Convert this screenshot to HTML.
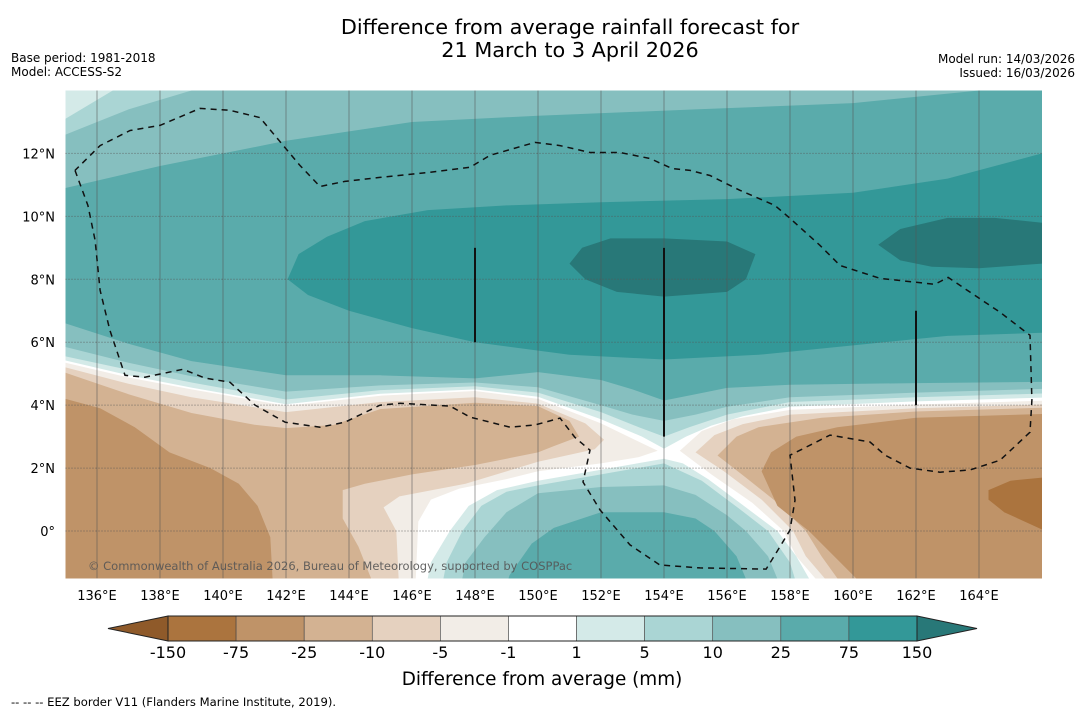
<!DOCTYPE html>
<html><head><meta charset="utf-8"><style>
html,body{margin:0;padding:0;background:#fff;width:1085px;height:713px;overflow:hidden}
svg{display:block;font-family:"DejaVu Sans","Liberation Sans",sans-serif}
</style></head><body>
<svg id="chart" width="1085" height="713" viewBox="0 0 1085 713" xmlns="http://www.w3.org/2000/svg">
<text x="570" y="34" font-size="20.8" text-anchor="middle">Difference from average rainfall forecast for</text>
<text x="570" y="57" font-size="20.8" text-anchor="middle">21 March to 3 April 2026</text>
<text x="11" y="62" font-size="12">Base period: 1981-2018</text>
<text x="11" y="76" font-size="12">Model: ACCESS-S2</text>
<text x="1075" y="63" font-size="12" text-anchor="end">Model run: 14/03/2026</text>
<text x="1075" y="77" font-size="12" text-anchor="end">Issued: 16/03/2026</text>
<defs><clipPath id="mapclip"><rect x="65.5" y="90.5" width="976.5" height="488"/></clipPath></defs>
<g id="map" clip-path="url(#mapclip)"></g>
<g id="overlay"></g>
<g id="cbar"></g>
<text x="542" y="685" font-size="18.4" text-anchor="middle">Difference from average (mm)</text>
<text x="11" y="706" font-size="11.6">--  --  -- EEZ border V11 (Flanders Marine Institute, 2019).</text>
</svg>
<script>
// axis domain
const lonTicks = [136,138,140,142,144,146,148,150,152,154,156,158,160,162,164];
const latTicks = [0,2,4,6,8,10,12];
const latTickLabels = ['0°','2°N','4°N','6°N','8°N','10°N','12°N'];
const cbarLabels = ['-150','-75','-25','-10','-5','-1','1','5','10','25','75','150'];
const cbarColors = ['#ab743e','#bf9368','#d3b292','#e5d1bf','#f2ede7','#ffffff','#d4eae8','#aad5d4','#86bfbf','#5aabab','#339898'];
const cbarUnder = '#8f5a2a';
const cbarOver = '#287878';

// contour regions (lon, lat)
const swMinus1 = [[134,5.4],[135,5.35],[137,4.88],[139,4.5],[142,3.98],[145,4.3],[148,4.45],[150,4.2],[152,3.42],[153.8,2.55],[153.2,2.35],[152,2.15],[150,1.9],[149,1.65],[147.5,1.35],[146.6,1.0],[146.2,0.3],[146.1,-2],[134,-2]];
const swMinus5 = [[134,-2],[134,5.25],[135,5.2],[137,4.68],[139,4.25],[142,3.78],[145,4.1],[148,4.25],[150,4.05],[151.5,3.42],[152.1,2.9],[151.8,2.6],[150,2.2],[147.7,1.5],[145.6,1.1],[145.1,0.75],[145.5,0],[145.6,-2]];
const swMinus10 = [[134,-2],[134,5.08],[135,5.03],[137,4.35],[139,3.75],[141,3.38],[142,3.27],[143.5,3.37],[145,3.88],[148,4.08],[150,3.97],[151,3.5],[151.3,3.0],[150.5,2.7],[150,2.5],[148,2.1],[146,1.8],[144.5,1.5],[143.8,1.3],[143.8,0.4],[144.3,-0.5],[144.7,-1.5],[144.8,-2]];
const swMinus25 = [[134,-2],[134,4.3],[135,4.2],[136.1,3.9],[137.2,3.3],[138.3,2.5],[139.6,2.0],[140.5,1.5],[141.1,0.8],[141.5,-0.2],[141.6,-2]];
const seMinus1 = [[154.5,2.55],[155.2,3.18],[156.2,3.55],[158,3.85],[162,4.02],[167,4.17],[167,-2],[159.1,-2],[158.8,-1.5],[158.2,-0.8],[157.8,0],[156.8,0.9],[155.5,1.8]];
const seMinus5 = [[155.0,2.5],[155.6,3.05],[156.5,3.4],[158,3.7],[162,3.9],[167,4.05],[167,-2],[159.4,-2],[159.1,-1.5],[158.5,-0.8],[158.1,0],[157.1,1.0],[155.9,1.9]];
const seMinus10 = [[155.7,2.4],[156.3,3.0],[157,3.3],[159,3.6],[162,3.8],[167,3.95],[167,-2],[159.8,-2],[159.5,-1.5],[159.0,-0.8],[158.5,0],[157.6,0.9],[156.6,1.7]];
const seMinus25 = [[157.1,1.9],[157.4,2.5],[158.2,3.0],[159.5,3.3],[162,3.6],[167,3.75],[167,-2],[160.3,-2],[160.1,-1.5],[159.6,-1.0],[158.6,0],[157.6,0.8]];
const seMinus75 = [[167,1.75],[166,1.7],[165,1.6],[164.3,1.3],[164.3,1.0],[164.8,0.6],[166,0.05],[167,-0.2]];
const sPlus1 = [[146.4,-2],[146.6,-1],[147.2,0],[147.8,0.8],[148.7,1.3],[150,1.6],[152,1.95],[154,2.3],[154.6,2.15],[155.4,1.65],[156.6,0.75],[157.6,0],[158.2,-0.8],[158.6,-1.5],[158.8,-2]];
const sPlus5 = [[146.9,-2],[147.1,-1],[147.6,0],[148.2,0.8],[149,1.25],[150,1.45],[152,1.8],[154,2.15],[155.2,1.6],[156.4,0.7],[157.3,0],[158.0,-1],[158.3,-2]];
const sPlus10 = [[147.5,-2],[147.7,-1],[148.3,-0.2],[149,0.6],[150,1.2],[152,1.4],[154,1.45],[155,1.15],[156,0.5],[156.6,0],[157.3,-0.8],[157.8,-2]];
const sPlus25 = [[148.9,-2],[149.1,-1.4],[149.8,-0.4],[150.5,0.1],[152,0.6],[154,0.6],[155,0.4],[155.6,0],[156.3,-0.8],[156.8,-2]];
const nPlus1 = [[134,5.45],[135,5.42],[137,4.95],[139,4.56],[142,4.03],[145,4.36],[148,4.5],[150,4.27],[152,3.55],[153.3,3.0],[154,2.62],[154.7,3.0],[155.5,3.35],[156.5,3.65],[158,3.95],[162,4.12],[167,4.27],[167,15],[134,15]];
const nPlus5 = [[134,5.6],[135,5.55],[137,5.12],[139,4.72],[142,4.18],[145,4.48],[148,4.6],[150,4.4],[152,3.78],[153.2,3.3],[154,3.0],[154.8,3.3],[156,3.7],[158,4.1],[162,4.25],[167,4.4],[167,15],[137,15],[136.5,14],[135,13.1],[134,13.0]];
const nPlus10 = [[134,5.9],[135,5.85],[137,5.35],[139,4.92],[142,4.43],[145,4.63],[148,4.72],[150,4.57],[152,4.0],[153,3.7],[154,3.5],[155,3.7],[156,3.95],[158,4.25],[162,4.4],[167,4.55],[167,15],[140,15],[139,14],[137,13.4],[135,12.6],[134,12.5]];
const nPlus25 = [[134,6.7],[135,6.6],[137,5.95],[139,5.4],[142,4.95],[145,4.95],[148,4.85],[150,5.05],[152,4.8],[153,4.5],[154,4.15],[155,4.35],[156,4.55],[158,4.65],[162,4.7],[167,4.75],[167,14.3],[160,13.6],[155,13.4],[150,13.2],[146,13.0],[142,12.4],[138,11.6],[135,10.9],[134,10.8]];
const nPlus75 = [[142.05,8.0],[142.4,8.8],[143.3,9.35],[144.5,9.85],[146.5,10.2],[149,10.35],[152,10.45],[156,10.55],[160,10.75],[163,11.2],[166,12.0],[167,12.3],[167,6.3],[166,6.3],[163,6.2],[160,5.9],[157,5.6],[154,5.45],[151,5.6],[148,6.0],[146,6.45],[144,7.0],[142.7,7.5]];
const nPlus150a = [[151,8.5],[151.4,9.0],[152.3,9.3],[154,9.3],[156,9.2],[156.9,8.8],[156.6,8.0],[156,7.6],[154,7.45],[152.5,7.6],[151.5,8.0]];
const nPlus150b = [[160.8,9.1],[161.5,9.6],[163,9.95],[164.5,9.95],[166,9.8],[167,9.7],[167,8.4],[166,8.5],[164,8.35],[162.5,8.4],[161.5,8.6]];

const eezBorder = [[135.3,11.46],[135.71,10.35],[135.94,9.24],[136.1,7.65],[136.41,6.38],[136.89,4.95],[137.52,4.89],[138.73,5.14],[139.43,4.86],[140.22,4.73],[141.02,4.0],[141.97,3.46],[143.08,3.3],[143.87,3.46],[144.98,4.0],[145.62,4.06],[147.21,3.97],[147.84,3.62],[149.11,3.3],[149.9,3.37],[150.7,3.59],[151.17,2.98],[151.65,2.57],[151.43,1.56],[151.97,0.67],[152.92,-0.44],[153.87,-1.08],[155.14,-1.17],[157.24,-1.21],[157.52,-0.76],[158.0,0.03],[158.16,0.98],[158.0,2.41],[158.32,2.57],[159.27,3.05],[160.54,2.83],[161.02,2.41],[161.81,2.0],[162.76,1.87],[163.71,1.94],[164.67,2.25],[165.62,3.14],[165.68,4.16],[165.62,6.22],[164.67,6.95],[163.87,7.49],[163.02,8.06],[162.6,7.84],[160.86,8.03],[159.59,8.44],[158.95,9.08],[158.0,9.94],[157.52,10.35],[156.41,10.83],[155.46,11.3],[154.83,11.46],[154.25,11.52],[153.56,11.84],[152.6,12.03],[151.65,12.03],[150.7,12.25],[149.9,12.35],[148.48,11.94],[147.84,11.56],[146.57,11.4],[144.98,11.24],[143.87,11.11],[143.08,10.95],[142.44,11.62],[141.17,13.14],[140.22,13.37],[139.27,13.43],[138.0,12.89],[137.05,12.73],[136.1,12.25],[135.3,11.46]];
const meridianSegLon = [148,154,162];
const meridianSegLat0 = [6,3,4];
const meridianSegLat1 = [9,9,7];

// axis functions
const LON0=135, LON1=166, LAT0=-1.5, LAT1=14;
const X0=65.5, X1=1042, Y0=578.25, Y1=90.5;
function xOf(lon){return X0+(lon-LON0)*(X1-X0)/(LON1-LON0);}
function yOf(lat){return Y0-(lat-LAT0)*(Y0-Y1)/(LAT1-LAT0);}
const NS='http://www.w3.org/2000/svg';
const mapG=document.getElementById('map');
const ov=document.getElementById('overlay');
const cb=document.getElementById('cbar');
function mk(tag,attrs,parent){const e=document.createElementNS(NS,tag);for(const k in attrs)e.setAttribute(k,attrs[k]);parent.appendChild(e);return e;}
function pts(arr){return arr.map(p=>xOf(p[0]).toFixed(1)+','+yOf(p[1]).toFixed(1)).join(' ');}

let bg=mk('rect',{x:X0,y:Y1,width:X1-X0,height:Y0-Y1,fill:'#ffffff'},mapG);



const regions=[
 ['sw-minus1',swMinus1,cbarColors[4]],['sw-minus5',swMinus5,cbarColors[3]],['sw-minus10',swMinus10,cbarColors[2]],['sw-minus25',swMinus25,cbarColors[1]],
 ['se-minus1',seMinus1,cbarColors[4]],['se-minus5',seMinus5,cbarColors[3]],['se-minus10',seMinus10,cbarColors[2]],['se-minus25',seMinus25,cbarColors[1]],['se-minus75',seMinus75,cbarColors[0]],
 ['south-plus1',sPlus1,cbarColors[6]],['south-plus5',sPlus5,cbarColors[7]],['south-plus10',sPlus10,cbarColors[8]],['south-plus25',sPlus25,cbarColors[9]],
 ['north-plus1',nPlus1,cbarColors[6]],['north-plus5',nPlus5,cbarColors[7]],['north-plus10',nPlus10,cbarColors[8]],['north-plus25',nPlus25,cbarColors[9]],['north-plus75',nPlus75,cbarColors[10]],
 ['north-plus150-west',nPlus150a,cbarOver],['north-plus150-east',nPlus150b,cbarOver]
];
regions.forEach(r=>{
  const p=mk('polygon',{points:pts(r[1]),fill:r[2]},mapG);
  
  
});

// gridlines
lonTicks.forEach(l=>{
  const g=mk('line',{x1:xOf(l),x2:xOf(l),y1:Y1,y2:Y0,stroke:'#555',"stroke-width":0.8,"stroke-opacity":0.7},mapG);
  
  
  const t=mk('text',{x:xOf(l),y:600,"font-size":13,"text-anchor":"middle"},ov);
  t.textContent=l+'°E';
  
  
});
latTicks.forEach((l,i)=>{
  const g=mk('line',{x1:X0,x2:X1,y1:yOf(l),y2:yOf(l),stroke:'#555',"stroke-width":1,"stroke-dasharray":"1,2","stroke-opacity":0.8},mapG);
  
  
  const t=mk('text',{x:55,y:yOf(l)+5,"font-size":13,"text-anchor":"end"},ov);
  t.textContent=latTickLabels[i];
  
  
});
// meridian segments
meridianSegLon.forEach((l,i)=>{
  const s=mk('line',{x1:xOf(l),x2:xOf(l),y1:yOf(meridianSegLat1[i]),y2:yOf(meridianSegLat0[i]),stroke:'#111',"stroke-width":2},mapG);
  
  
});
// EEZ border
const eez=mk('polyline',{points:pts(eezBorder),fill:'none',stroke:'#111',"stroke-width":1.5,"stroke-dasharray":"6,5"},mapG);


// copyright
const cp=mk('text',{x:88,y:570,"font-size":11.5,fill:'#555',"fill-opacity":0.9},mapG);
cp.textContent='© Commonwealth of Australia 2026, Bureau of Meteorology, supported by COSPPac';



// colorbar
const CB0=168, CB1=917, CBY=616, CBH=25;
const bw=(CB1-CB0)/cbarColors.length;
const ut=mk('polygon',{points:(CB0)+','+CBY+' '+(CB0)+','+(CBY+CBH)+' 108,'+(CBY+CBH/2),fill:cbarUnder,stroke:'#222',"stroke-width":1},cb);


const ot=mk('polygon',{points:(CB1)+','+CBY+' '+(CB1)+','+(CBY+CBH)+' 977,'+(CBY+CBH/2),fill:cbarOver,stroke:'#222',"stroke-width":1},cb);


cbarColors.forEach((c,i)=>{
  const r=mk('rect',{x:CB0+i*bw,y:CBY,width:bw,height:CBH,fill:c,stroke:'#444',"stroke-width":0.6},cb);
  
  
});
const fr=mk('rect',{x:CB0,y:CBY,width:CB1-CB0,height:CBH,fill:'none',stroke:'#222',"stroke-width":1},cb);


cbarLabels.forEach((s,i)=>{
  const t=mk('text',{x:CB0+i*bw,y:658,"font-size":16,"text-anchor":"middle"},cb);
  t.textContent=s;
  
  
});
</script>
</body></html>
